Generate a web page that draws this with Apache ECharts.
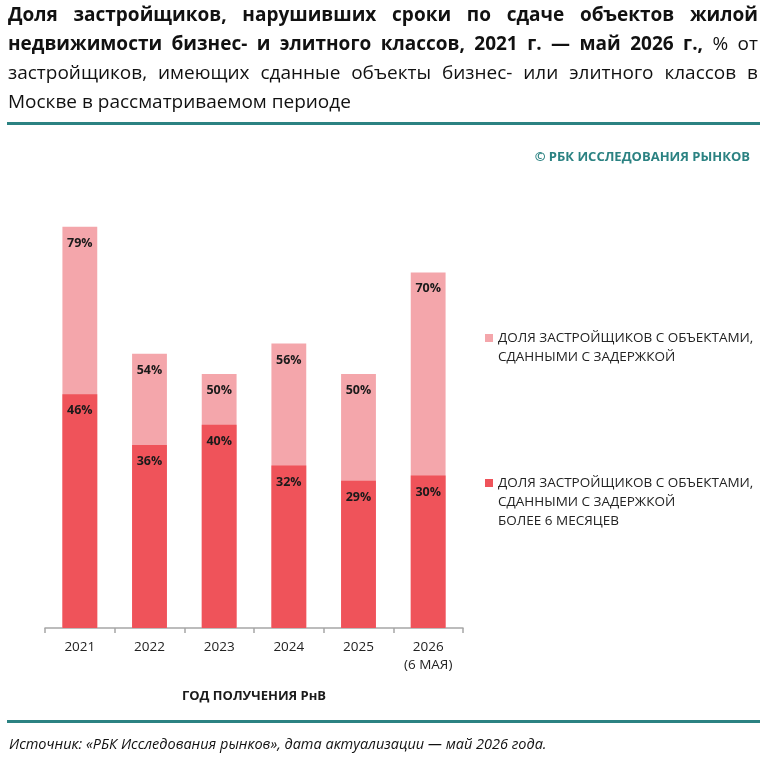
<!DOCTYPE html>
<html>
<head>
<meta charset="utf-8">
<script src="https://cdn.jsdelivr.net/npm/echarts@6/dist/echarts.min.js"></script>
<style>
  html, body { margin: 0; padding: 0; background: #fff; }
  body { width: 768px; height: 767px; position: relative; overflow: hidden; font-family: "Open Sans", sans-serif; color: #111; }
  #chart { position: absolute; left: 0; top: 0; width: 768px; height: 767px; }
  #head { position: absolute; left: 8px; top: 0px; width: 750px; font-size: 19px; line-height: 29px; }
  #head .j { text-align: justify; text-align-last: justify; white-space: nowrap; }
  #head b { font-weight: 700; }
  .rule { position: absolute; left: 7px; width: 753px; height: 3px; background: #2b8282; }
  #mark { position: absolute; right: 18px; top: 147px; font-size: 13px; font-weight: 700; color: #2b8282; }
  #src { position: absolute; left: 9px; top: 734px; font-size: 14.5px; font-style: italic; color: #111; }
</style>
</head>
<body>
<div id="chart"></div>
<div id="head">
  <div class="j"><b>Доля застройщиков, нарушивших сроки по сдаче объектов жилой</b></div>
  <div class="j"><b>недвижимости бизнес- и элитного классов, 2021 г. — май 2026 г.,</b> % от</div>
  <div class="j">застройщиков, имеющих сданные объекты бизнес- или элитного классов в</div>
  <div>Москве в рассматриваемом периоде</div>
</div>
<div class="rule" style="top:122px"></div>
<div id="mark">© РБК ИССЛЕДОВАНИЯ РЫНКОВ</div>
<div class="rule" style="top:720px"></div>
<div id="src">Источник: «РБК Исследования рынков», дата актуализации — май 2026 года.</div>
<script>
var years = ['2021', '2022', '2023', '2024', '2025', '2026\n(6 МАЯ)'];
var delayed = [79, 54, 50, 56, 50, 70];
var delayed6m = [46, 36, 40, 32, 29, 30];
var nameDelayed = 'ДОЛЯ ЗАСТРОЙЩИКОВ С ОБЪЕКТАМИ,\nСДАННЫМИ С ЗАДЕРЖКОЙ';
var nameDelayed6m = 'ДОЛЯ ЗАСТРОЙЩИКОВ С ОБЪЕКТАМИ,\nСДАННЫМИ С ЗАДЕРЖКОЙ\nБОЛЕЕ 6 МЕСЯЦЕВ';

var font = '"Open Sans", sans-serif';
var myChart = echarts.init(document.getElementById('chart'));

function legendBox(name, top, h) {
    // square sits on the first text line, the rest of the box is empty
    return {
        data: [name],
        left: 485,
        top: top,
        padding: 0,
        orient: 'vertical',
        selectedMode: false,
        itemWidth: 8,
        itemHeight: h,
        icon: 'path://M0,5.5H8V13.5H0Z M0,0L0.01,0 M0,' + h + 'L0.01,' + h,
        textStyle: { fontFamily: font, fontSize: 13.5, color: '#222', lineHeight: 19 }
    };
}

var barLabel = {
    show: true,
    position: 'insideTop',
    distance: 10,
    formatter: '{c}%',
    fontFamily: font,
    fontSize: 12.5,
    fontWeight: 'bold',
    color: '#1a1a1a'
};

option = {
    animation: false,
    legend: [
        legendBox(nameDelayed, 328.5, 38),
        legendBox(nameDelayed6m, 473.5, 57)
    ],
    grid: {
        left: 45,
        right: 305,
        top: 120,
        bottom: 139
    },
    xAxis: {
        type: 'category',
        data: years,
        axisLine: { lineStyle: { color: '#a6a6a6', width: 1.5 } },
        axisTick: { show: true, length: 5, lineStyle: { color: '#a6a6a6', width: 1.5 } },
        axisLabel: { fontFamily: font, fontSize: 13.5, color: '#222', margin: 10, lineHeight: 18 },
        name: 'ГОД ПОЛУЧЕНИЯ РнВ',
        nameLocation: 'middle',
        nameGap: 62,
        nameTextStyle: { fontFamily: font, fontSize: 13, fontWeight: 'bold', color: '#1a1a1a' }
    },
    yAxis: {
        type: 'value',
        min: 0,
        max: 100,
        show: false
    },
    series: [
        {
            name: nameDelayed,
            type: 'bar',
            data: delayed,
            barWidth: '50%',
            barGap: '-100%',
            itemStyle: { color: '#f4a6ab' },
            label: barLabel
        },
        {
            name: nameDelayed6m,
            type: 'bar',
            data: delayed6m,
            barWidth: '50%',
            barGap: '-100%',
            itemStyle: { color: '#ef535a' },
            label: barLabel
        }
    ]
};
myChart.setOption(option);
</script>
</body>
</html>
